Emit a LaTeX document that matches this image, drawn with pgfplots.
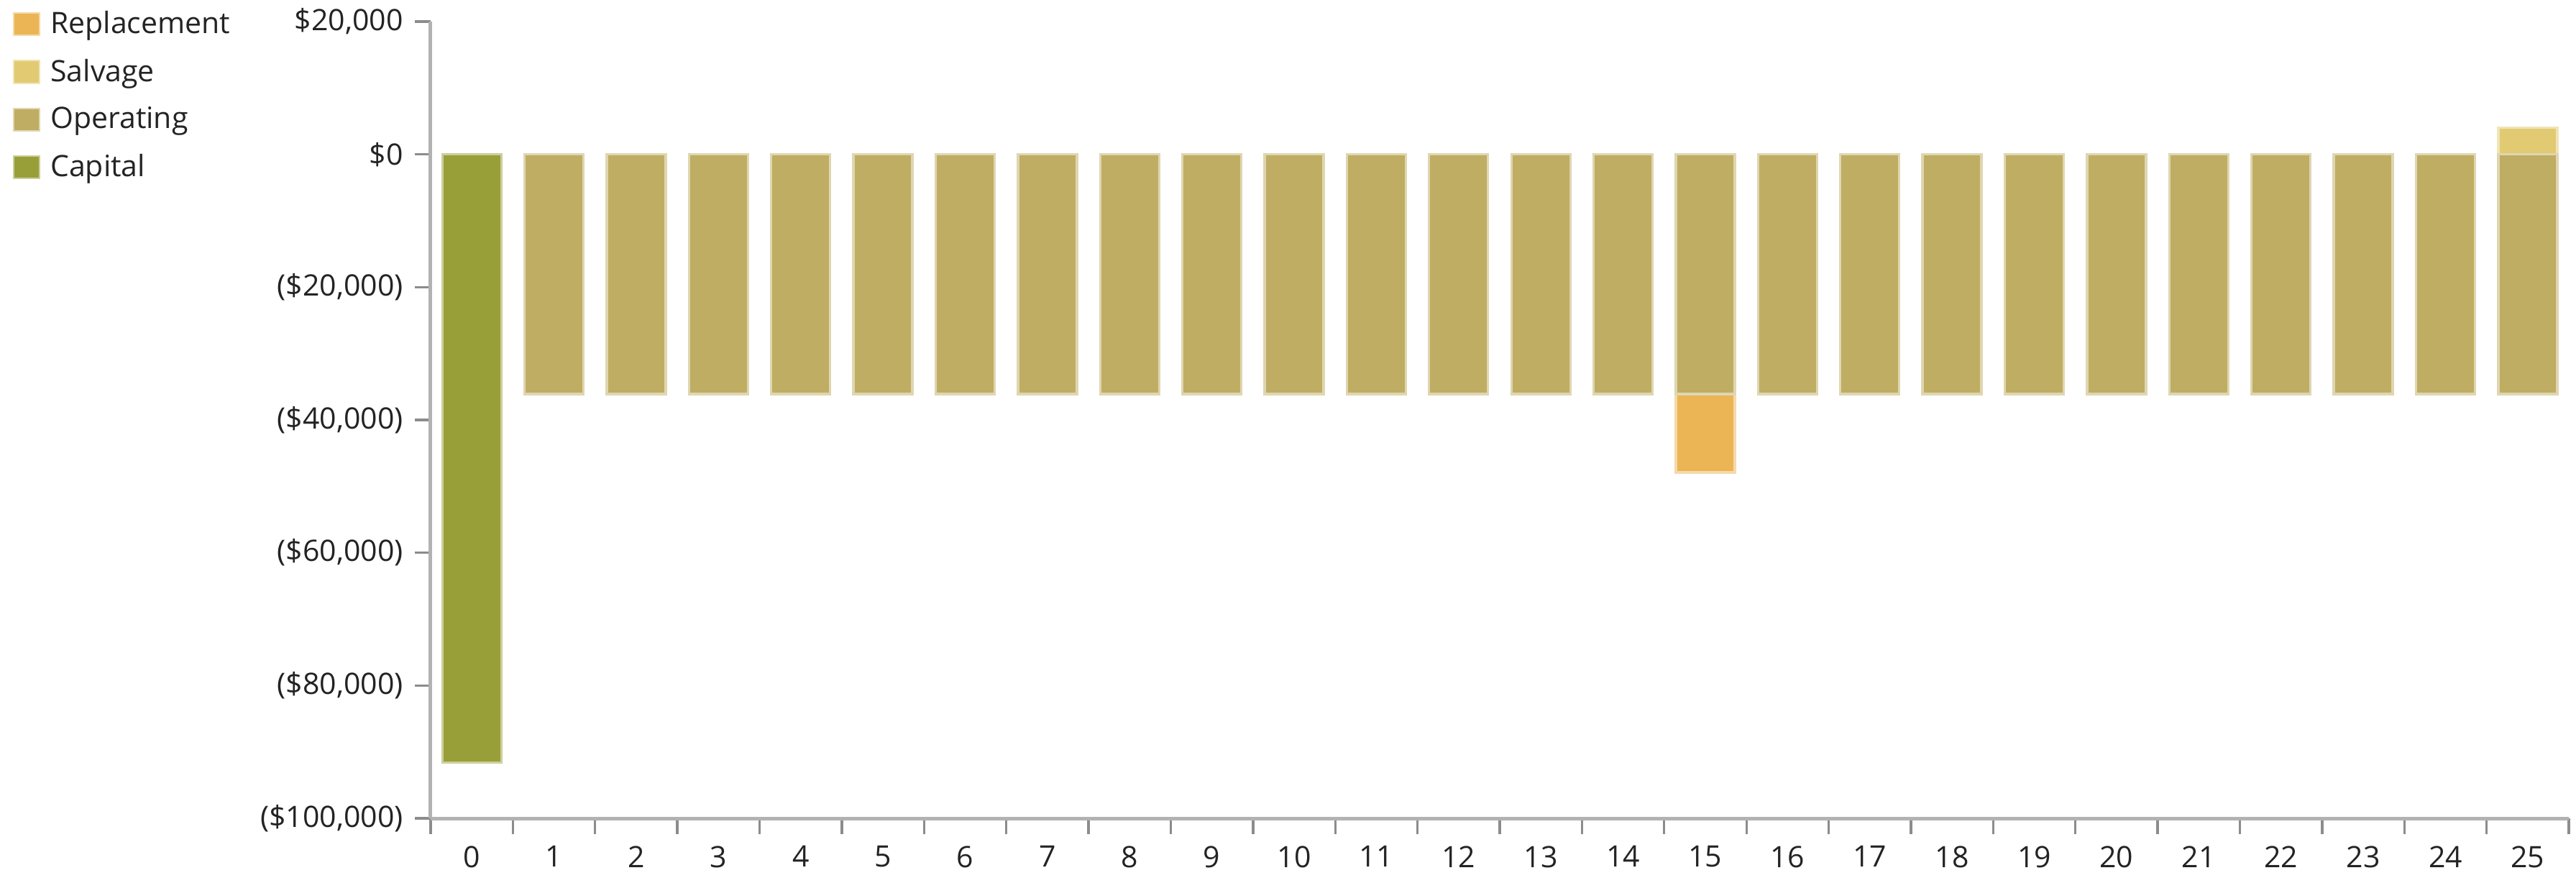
\documentclass[border=0pt]{standalone}
\usepackage{pgfplots}
\pgfplotsset{compat=1.18}
\usepackage{fontspec}
\setmainfont{Open Sans}
\definecolor{capital}{RGB}{153,159,56}
\definecolor{operating}{RGB}{191,173,99}
\definecolor{salvage}{RGB}{226,202,114}
\definecolor{replacement}{RGB}{235,180,84}
\definecolor{axisgray}{RGB}{178,178,178}
\definecolor{tickgray}{RGB}{140,140,140}
\definecolor{labelgray}{RGB}{35,35,35}

\begin{document}
\begin{tikzpicture}
% frame of the whole picture, 0.3pt per reference pixel
\useasboundingbox (-179.7pt,-24.9pt) rectangle (895.2pt,341.4pt);
\begin{axis}[
    at={(0pt,0pt)}, anchor=south west,
    scale only axis,
    width=892.2pt, height=332.4pt,
    xmin=-0.5, xmax=25.5,
    ymin=-100000, ymax=20000,
    enlargelimits=false,
    axis x line*=bottom, axis y line*=left,
    axis line style={draw=axisgray, line width=1.5pt, -},
    ybar, bar width=24.6pt, bar shift=0pt,
    tick align=outside,
    xtick={0,...,25},
    major x tick style={draw=none},
    minor xtick={-0.5,0.5,...,25.5},
    minor tick length=6.5pt, major tick length=6.5pt,
    tick style={draw=tickgray, line width=1pt},
    ytick={-100000,-80000,...,20000},
    yticklabels={{(\$100,000)},{(\$80,000)},{(\$60,000)},{(\$40,000)},{(\$20,000)},{\$0},{\$20,000}},
    scaled y ticks=false,
    /pgf/number format/assume math mode=true,
    ticklabel style={font=\fontsize{12.3}{14}\selectfont, text=labelgray},
    yticklabel style={xshift=-1.5pt},
    xticklabel style={yshift=-1.5pt},
    legend style={
        at={(axis description cs:-0.1957,1.020)}, anchor=north west,
        draw=none, fill=none, inner sep=0pt,
        row sep=5.2pt,
        font=\fontsize{12.3}{14}\selectfont, text=labelgray,
        cells={anchor=west}
    },
    legend image code/.code={
        \draw[#1, line width=0.6pt] (0pt,-4.7pt) rectangle (11pt,4.7pt);
        \path (13pt,0pt);
    },
]
% replacement sits below operating in year 15: -36100 - 11800
\addplot[fill=replacement, draw=replacement!50!white, line width=1pt]
    coordinates {(15,-47900)};
\addlegendentry{Replacement}
\addplot[fill=salvage, draw=salvage!50!white, line width=1pt]
    coordinates {(25,4000)};
\addlegendentry{Salvage}
\addplot[fill=operating, draw=operating!50!white, line width=1pt]
    coordinates {
        (1,-36100) (2,-36100) (3,-36100) (4,-36100) (5,-36100)
        (6,-36100) (7,-36100) (8,-36100) (9,-36100) (10,-36100)
        (11,-36100) (12,-36100) (13,-36100) (14,-36100) (15,-36100)
        (16,-36100) (17,-36100) (18,-36100) (19,-36100) (20,-36100)
        (21,-36100) (22,-36100) (23,-36100) (24,-36100) (25,-36100)
    };
\addlegendentry{Operating}
\addplot[fill=capital, draw=capital!50!white, line width=1pt]
    coordinates {(0,-91600)};
\addlegendentry{Capital}
\end{axis}
\end{tikzpicture}
\end{document}
